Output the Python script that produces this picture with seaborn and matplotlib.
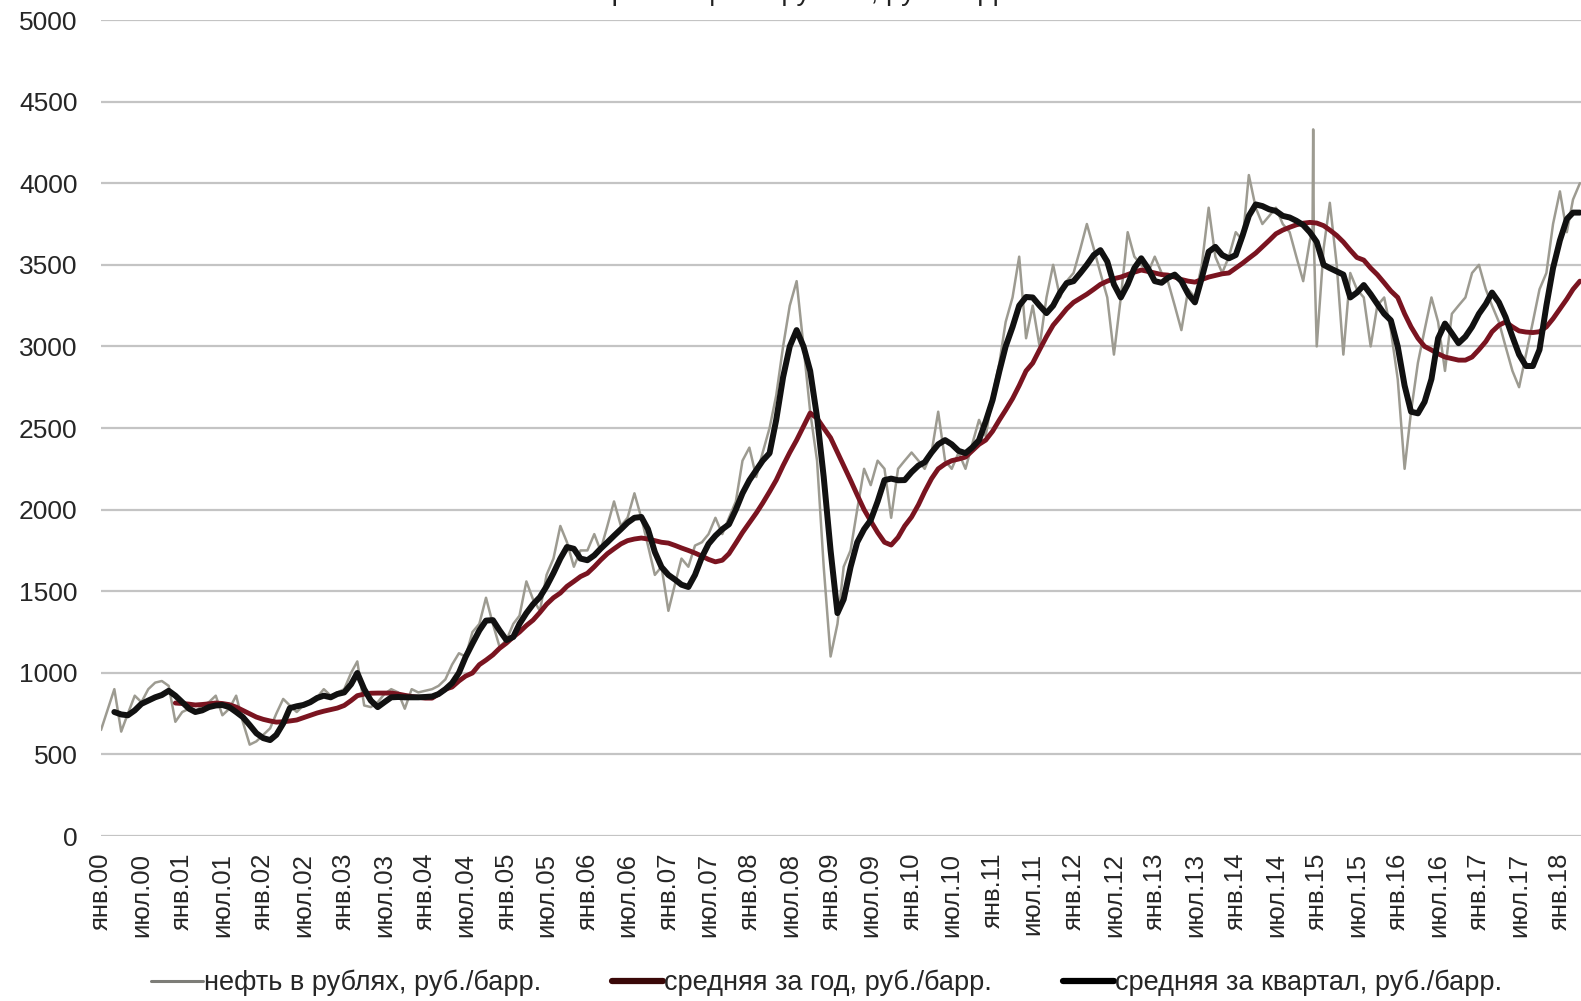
import pandas as pd
import seaborn as sns
import matplotlib.pyplot as plt
from matplotlib.lines import Line2D

# monthly points, Jan 2000 .. Apr 2018
months = pd.date_range('2000-01-01', '2018-04-01', freq='MS')

# нефть в рублях (one point per month)
oil_rub = [
    650, 780, 900, 640, 750, 860, 820, 900, 940, 950, 920, 700,
    760, 780, 760, 800, 820, 860, 740, 780, 860, 700, 560, 580,
    620, 660, 750, 840, 800, 760, 800, 830, 850, 900, 860, 880,
    900, 1000, 1070, 800, 790, 820, 870, 900, 880, 780, 900, 880,
    890, 900, 920, 960, 1050, 1120, 1100, 1250, 1300, 1460, 1300, 1160,
    1200, 1300, 1350, 1560, 1450, 1380, 1600, 1700, 1900, 1800, 1650, 1750,
    1750, 1850, 1750, 1900, 2050, 1900, 1950, 2100, 1950, 1780, 1600, 1650,
    1380, 1550, 1700, 1650, 1780, 1800, 1850, 1950, 1850, 1950, 2050, 2300,
    2380, 2200, 2350, 2500, 2700, 3000, 3250, 3400, 3000, 2600, 2300, 1650,
    1100, 1300, 1650, 1750, 2000, 2250, 2150, 2300, 2250, 1950, 2250, 2300,
    2350, 2300, 2250, 2350, 2600, 2300, 2250, 2350, 2250, 2400, 2550, 2450,
    2700, 2900, 3150, 3300, 3550, 3050, 3250, 3000, 3300, 3500, 3300, 3400,
    3450, 3600, 3750, 3600, 3450, 3300, 2950, 3300, 3700, 3550, 3500, 3450,
    3550, 3450, 3400, 3250, 3100, 3350, 3300, 3500, 3850, 3550, 3450, 3550,
    3700, 3650, 4050, 3850, 3750, 3800, 3850, 3750, 3700, 3550, 3400, 3650,
    3000, 3600, 3880, 3500, 2950, 3450, 3350, 3300, 3000, 3250, 3300, 3100,
    2800, 2250, 2600, 2900, 3100, 3300, 3150, 2850, 3200, 3250, 3300, 3450,
    3500, 3350, 3250, 3150, 3000, 2850, 2750, 2950, 3150, 3350, 3450, 3750,
    3950, 3700, 3900, 4000,
]
# the december 2014 spike
spike_dates = ['2014-12-13', '2014-12-16', '2014-12-19']
spike_vals = [3700, 4330, 3650]

# средняя за квартал, from Mar 2000
quarter_avg = [
    760, 745, 740, 770, 810, 830, 850, 864, 890, 860,
    820, 780, 760, 770, 790, 800, 803, 790, 760, 729, 680, 630,
    600, 588, 620, 690, 784, 795, 803, 820, 846, 860, 850, 870,
    880, 930, 999, 900, 830, 790, 820, 850, 852, 850, 850, 850,
    852, 855, 870, 900, 937, 1000, 1097, 1180, 1260, 1320, 1323, 1260,
    1201, 1220, 1300, 1366, 1420, 1464, 1530, 1611, 1700, 1771, 1760, 1700,
    1690, 1720, 1760, 1800, 1840, 1880, 1920, 1950, 1955, 1880, 1740, 1648,
    1600, 1570, 1540, 1526, 1600, 1709, 1790, 1840, 1880, 1910, 2000, 2100,
    2180, 2242, 2300, 2346, 2550, 2812, 3000, 3100, 3000, 2850, 2567, 2200,
    1750, 1366, 1450, 1648, 1800, 1880, 1936, 2050, 2181, 2190, 2180, 2181,
    2230, 2270, 2290, 2350, 2400, 2426, 2400, 2360, 2346, 2380, 2426, 2540,
    2671, 2850, 3000, 3119, 3250, 3303, 3300, 3250, 3204, 3250, 3330, 3388,
    3400, 3450, 3500, 3560, 3590, 3520, 3380, 3300, 3380, 3480, 3540, 3480,
    3400, 3390, 3420, 3440, 3400, 3320, 3270, 3420, 3580, 3610, 3560, 3540,
    3560, 3680, 3800, 3870, 3860, 3840, 3830, 3800, 3790, 3770, 3744, 3700,
    3640, 3500, 3480, 3460, 3440, 3300, 3330, 3376, 3320, 3260, 3200, 3160,
    3000, 2760, 2600, 2590, 2660, 2800, 3050, 3140, 3080, 3020, 3060, 3120,
    3200, 3260, 3330, 3270, 3180, 3060, 2950, 2880, 2880, 2980, 3250, 3480,
    3650, 3780, 3820, 3820,
]

# средняя за год, from Dec 2000
year_avg = [
    815,
    812, 808, 803, 806, 810, 815, 812, 805, 790, 770, 750, 729,
    715, 705, 698, 700, 705, 711, 725, 740, 754, 765, 775, 784,
    800, 830, 860, 870, 875, 876, 876, 876, 870, 862, 855, 850,
    845, 845, 870, 900, 913, 950, 980, 999, 1050, 1078, 1110, 1150,
    1182, 1220, 1250, 1290, 1323, 1370, 1420, 1460, 1489, 1530, 1560, 1590,
    1610, 1650, 1690, 1730, 1760, 1790, 1810, 1820, 1826, 1820, 1810, 1800,
    1795, 1780, 1765, 1750, 1734, 1715, 1695, 1680, 1690, 1730, 1795, 1860,
    1920, 1979, 2040, 2110, 2181, 2270, 2350, 2426, 2510, 2592, 2560, 2500,
    2440, 2350, 2270, 2180, 2090, 2000, 1930, 1860, 1800, 1783, 1830, 1900,
    1955, 2030, 2110, 2190, 2250, 2280, 2300, 2310, 2322, 2360, 2400, 2426,
    2480, 2550, 2610, 2680, 2760, 2850, 2898, 2980, 3060, 3130, 3180, 3230,
    3270, 3296, 3320, 3350, 3380, 3400, 3415, 3425, 3440, 3455, 3468, 3460,
    3450, 3440, 3437, 3425, 3410, 3400, 3394, 3410, 3425, 3435, 3445, 3450,
    3480, 3510, 3540, 3572, 3610, 3650, 3690, 3713, 3730, 3745, 3755, 3760,
    3756, 3740, 3713, 3680, 3640, 3590, 3545, 3529, 3480, 3440, 3390, 3340,
    3300, 3200, 3120, 3050, 3000, 2978, 2955, 2935, 2925, 2916, 2916, 2935,
    2980, 3030, 3090, 3130, 3150, 3120, 3095, 3088, 3085, 3090, 3120, 3170,
    3230, 3290, 3350, 3400,
]

tick_dates = pd.date_range('2000-01-01', '2018-01-01', freq='6MS')
ru_month = {1: 'янв.', 7: 'июл.'}
tick_labels = [ru_month[d.month] + d.strftime('%y') for d in tick_dates]
y_ticks = list(range(0, 5001, 500))

labels = ['нефть в рублях, руб./барр.', 'средняя за год, руб./барр.',
          'средняя за квартал, руб./барр.']

# build the series
oil = pd.Series(oil_rub, index=months)
oil = pd.concat([oil, pd.Series(spike_vals, index=pd.to_datetime(spike_dates))]).sort_index()
quarter = pd.Series(quarter_avg, index=months[2:])
year = pd.Series(year_avg, index=months[11:])

sns.set_style('white')
plt.rcParams['font.family'] = ['Liberation Sans', 'DejaVu Sans']

fig = plt.figure(figsize=(15.81, 10.01), dpi=100)
ax = fig.add_axes([0.0639, 0.1648, 0.9361, 0.8152])

for v in y_ticks:
    ax.axhline(v, color='#c4c4c4', lw=1.6, zorder=0)

sns.lineplot(x=oil.index, y=oil.values, ax=ax, color='#9d9b91', lw=1.8, estimator=None)
sns.lineplot(x=year.index, y=year.values, ax=ax, color='#7a1420', lw=3.5, estimator=None)
sns.lineplot(x=quarter.index, y=quarter.values, ax=ax, color='#111111', lw=4.3, estimator=None)

ax.set_xlim(pd.Timestamp('2000-01-01'), pd.Timestamp('2018-04-06'))
ax.set_ylim(0, 5000)
ax.set_yticks(y_ticks)
ax.set_yticklabels([str(v) for v in y_ticks], fontsize=19)
ax.set_xticks(tick_dates)
ax.set_xticklabels(tick_labels, rotation=90, fontsize=18.5, ha='center', va='top')
ax.tick_params(axis='y', length=0, pad=17)
ax.tick_params(axis='x', length=0, pad=12)
ax.set_xlabel('')
ax.set_ylabel('')
for s in ax.spines.values():
    s.set_visible(False)

handles = [Line2D([], [], color='#7d7d78', lw=2.2),
           Line2D([], [], color='#3a0808', lw=4.5),
           Line2D([], [], color='#000000', lw=4.5)]
fig.legend(handles, labels, loc='center', bbox_to_anchor=(0.523, 0.018), ncol=3,
           frameon=False, fontsize=19.5, handlelength=1.9, handletextpad=0.05,
           columnspacing=2.6)

# title is cut off by the top edge in the original
fig.text(0.51, 1.0, 'Цена нефти в рублях, руб./барр.', ha='center', va='baseline',
         fontsize=20, color='#222222')

fig.savefig('out.png', dpi=100)
